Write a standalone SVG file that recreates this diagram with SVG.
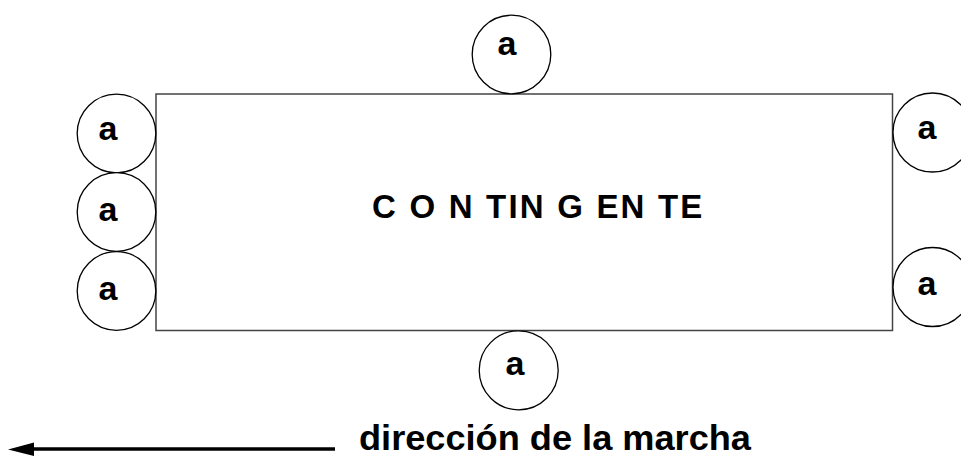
<svg xmlns="http://www.w3.org/2000/svg" width="961" height="457" viewBox="0 0 961 457">
<style>
.c{fill:#fff;stroke:#000;stroke-width:1.3}
.t{font-family:"Liberation Sans",Arial,sans-serif;font-weight:bold;fill:#000}
.a{font-size:34px;text-anchor:middle}
</style>
<rect width="961" height="457" fill="#fff"/>
<g id="contingente">
<rect x="156" y="94" width="736.5" height="236.5" fill="#fff" stroke="#444" stroke-width="1.5"/>
<text class="t" x="372" y="217.5" font-size="33" letter-spacing="2.2">C O N TIN G EN TE</text>
</g>
<g id="a-top"><circle class="c" cx="511.5" cy="54.5" r="39.3"/><text class="t a" x="507" y="55">a</text></g>
<g id="a-left1"><circle class="c" cx="116.5" cy="133.5" r="39.3"/><text class="t a" x="108" y="139.5">a</text></g>
<g id="a-left2"><circle class="c" cx="116.5" cy="212" r="39.3"/><text class="t a" x="108" y="220.5">a</text></g>
<g id="a-left3"><circle class="c" cx="116.5" cy="291" r="39.3"/><text class="t a" x="108" y="300">a</text></g>
<g id="a-right1"><circle class="c" cx="932.5" cy="132.5" r="39.5"/><text class="t a" x="927" y="138.5">a</text></g>
<g id="a-right2"><circle class="c" cx="932.5" cy="287" r="39.5"/><text class="t a" x="927" y="295">a</text></g>
<g id="a-bottom"><circle class="c" cx="518.7" cy="370.3" r="39.5"/><text class="t a" x="515" y="375">a</text></g>
<g id="connectors">
<line x1="335" y1="449" x2="34" y2="449" stroke="#000" stroke-width="3.5"/>
<path d="M8,449.5 L34,442.5 L34,456 Z" fill="#000"/>
</g>
<text class="t" x="359" y="449.5" font-size="34.5" textLength="392" lengthAdjust="spacingAndGlyphs">dirección de la marcha</text>
</svg>
